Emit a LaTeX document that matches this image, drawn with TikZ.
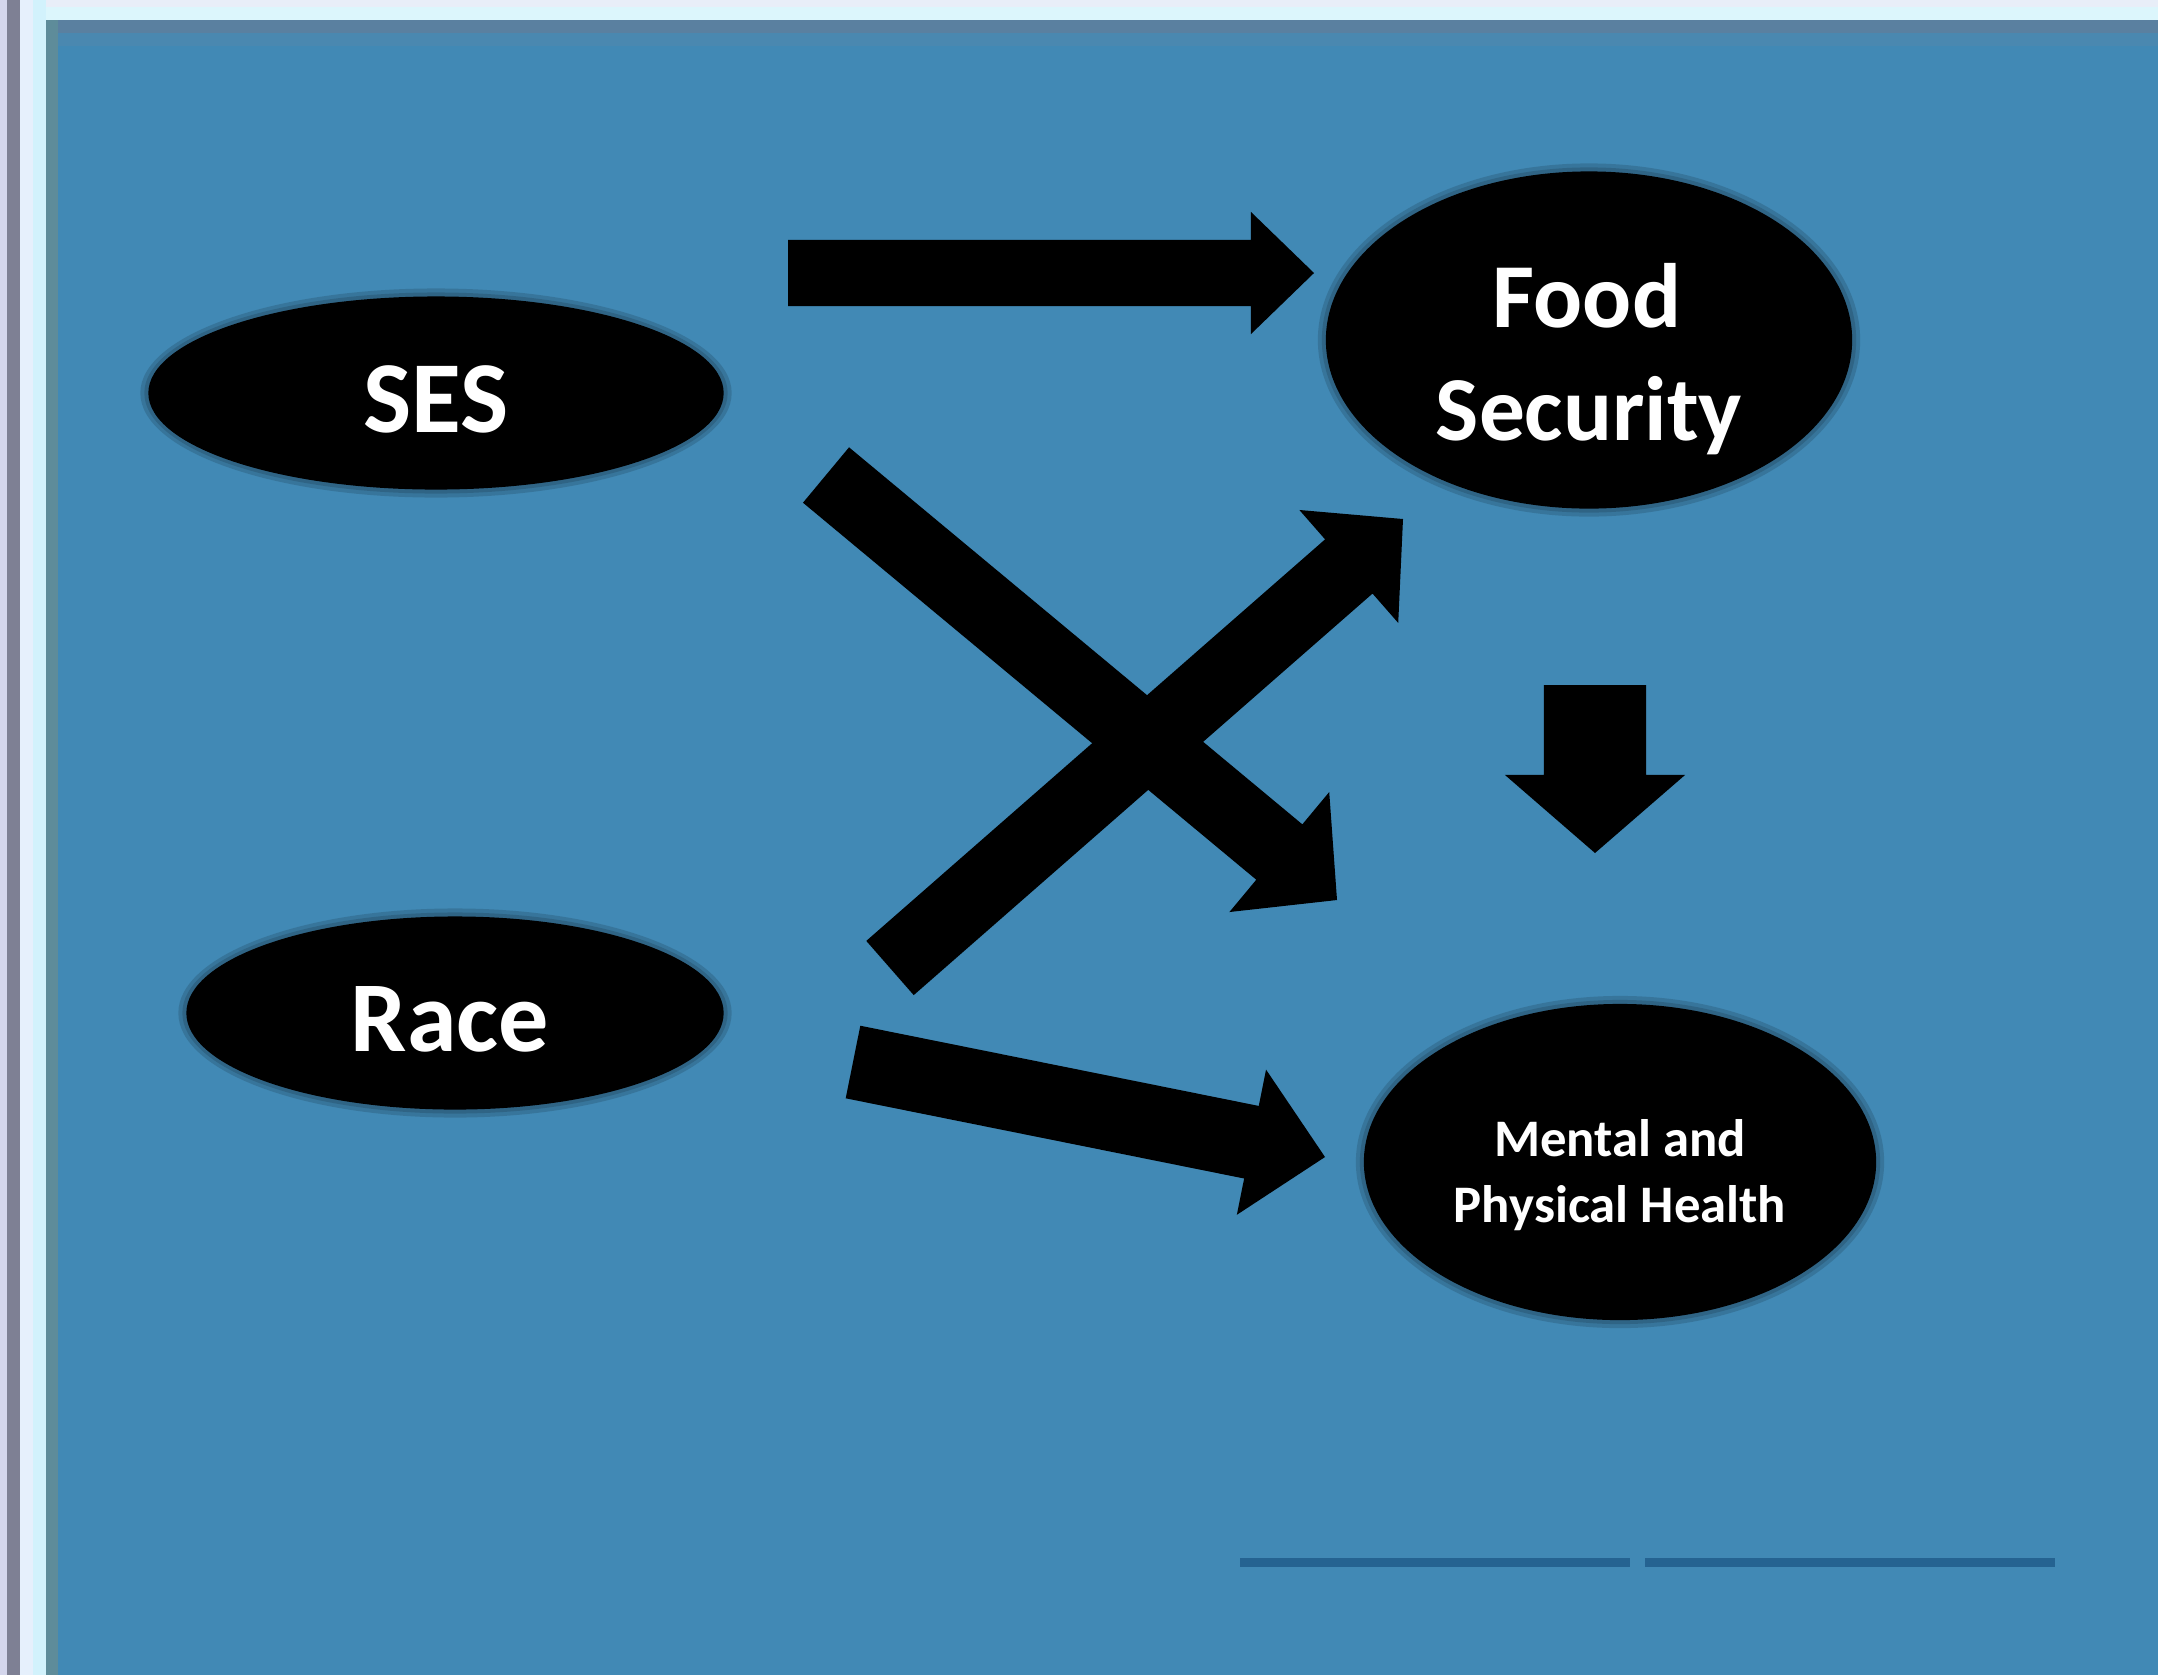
\documentclass[tikz,border=0pt]{standalone}
\usepackage{fontspec}
\setmainfont{Carlito}
\usetikzlibrary{shapes.geometric,calc}
\definecolor{bgblue}{RGB}{65,137,181}
\definecolor{edgeA}{RGB}{212,214,236}
\definecolor{edgeB}{RGB}{126,128,148}
\definecolor{edgeC}{RGB}{230,240,252}
\definecolor{edgeD}{RGB}{210,242,252}
\definecolor{edgeE}{RGB}{94,140,154}
\definecolor{topA}{RGB}{232,238,248}
\definecolor{topB}{RGB}{220,246,252}
\definecolor{topC}{RGB}{90,128,160}
\definecolor{topD}{RGB}{74,136,176}
\definecolor{citeblue}{RGB}{30,90,136}
\newcommand{\blockarr}[5]{%
  \coordinate (ba-c) at ($(#2)!#5!(#1)$);
  \fill[arrowfill] ($(#1)!#3!90:(#2)$) -- ($(ba-c)!#3!90:(#2)$) -- ($(ba-c)!#4!90:(#2)$)
    -- (#2) -- ($(ba-c)!#4!-90:(#2)$) -- ($(ba-c)!#3!-90:(#2)$) -- ($(#1)!#3!-90:(#2)$) -- cycle;}
\begin{document}
\begin{tikzpicture}[x=0.01cm,y=-0.01cm,
  blob/.style={ellipse, fill=black, inner sep=0pt, draw=none},
  halo/.style={ellipse, fill=black, opacity=0.14, inner sep=0pt, draw=none},
  lbl/.style={text=white, anchor=base, inner sep=0pt, font=\bfseries},
  arrowfill/.style={fill=black}]
\useasboundingbox (0,0) rectangle (2158,1675);
% background and window edges
\fill[bgblue] (0,0) rectangle (2158,1675);
\fill[topA] (0,0) rectangle (2158,7);
\fill[topB] (0,7) rectangle (2158,20);
\fill[topC] (46,20) rectangle (2158,33);
\fill[topD] (46,33) rectangle (2158,46);
\fill[edgeA] (0,0) rectangle (7,1675);
\fill[edgeB] (7,0) rectangle (20,1675);
\fill[edgeC] (20,0) rectangle (33,1675);
\fill[edgeD] (33,0) rectangle (46,1675);
\fill[edgeE] (46,20) rectangle (58,1675);
% ellipses (soft edge: two faint halos under each)
\node[halo, minimum width=5.91cm, minimum height=2.09cm] (sesh2) at (436,393) {};
\node[halo, minimum width=5.83cm, minimum height=2.01cm] (sesh) at (436,393) {};
\node[blob, minimum width=5.75cm, minimum height=1.93cm] (ses) at (436,393) {};
\node[halo, minimum width=5.53cm, minimum height=2.09cm] (raceh2) at (455,1013) {};
\node[halo, minimum width=5.45cm, minimum height=2.01cm] (raceh) at (455,1013) {};
\node[blob, minimum width=5.37cm, minimum height=1.93cm] (race) at (455,1013) {};
\node[halo, minimum width=5.42cm, minimum height=3.53cm] (foodh2) at (1589,340) {};
\node[halo, minimum width=5.34cm, minimum height=3.45cm] (foodh) at (1589,340) {};
\node[blob, minimum width=5.26cm, minimum height=3.37cm] (food) at (1589,340) {};
\node[halo, minimum width=5.28cm, minimum height=3.32cm] (healthh2) at (1620,1162) {};
\node[halo, minimum width=5.20cm, minimum height=3.24cm] (healthh) at (1620,1162) {};
\node[blob, minimum width=5.12cm, minimum height=3.16cm] (health) at (1620,1162) {};
% labels
\node[lbl, font=\bfseries\fontsize{29}{35}\selectfont] (sest) at (436,432) {SES};
\node[lbl, font=\bfseries\fontsize{28.5}{35}\selectfont] (racet) at (450,1051) {Race};
\node[lbl, font=\bfseries\fontsize{26}{32}\selectfont] (foodt1) at (1587,327) {Food};
\node[lbl, font=\bfseries\fontsize{26}{32}\selectfont] (foodt2) at (1589,440) {Security};
\node[lbl, font=\bfseries\fontsize{15}{19.5}\selectfont] (healtht1) at (1620,1156) {Mental and};
\node[lbl, font=\bfseries\fontsize{15}{19.5}\selectfont] (healtht2) at (1620,1222) {Physical Health};
% block arrows
\coordinate (a1s) at (788,273);  \coordinate (a1e) at (1314,273);
\coordinate (a2s) at (826,475);  \coordinate (a2e) at (1337,900);
\coordinate (a3s) at (890,968);  \coordinate (a3e) at (1403,519);
\coordinate (a4s) at (1595,685); \coordinate (a4e) at (1595,853);
\coordinate (a5s) at (853,1062); \coordinate (a5e) at (1325,1157);
\blockarr{a1s}{a1e}{0.33cm}{0.61cm}{0.63cm}
\blockarr{a2s}{a2e}{0.36cm}{0.78cm}{0.75cm}
\blockarr{a3s}{a3e}{0.36cm}{0.75cm}{0.72cm}
\blockarr{a4s}{a4e}{0.51cm}{0.90cm}{0.78cm}
\blockarr{a5s}{a5e}{0.37cm}{0.74cm}{0.75cm}
% illegible citation line
\coordinate (c1) at (1240,1562); \coordinate (c2) at (1630,1562);
\coordinate (c3) at (1645,1562); \coordinate (c4) at (2055,1562);
\draw[citeblue, line width=0.09cm, opacity=0.8] (c1) -- (c2);
\draw[citeblue, line width=0.09cm, opacity=0.8] (c3) -- (c4);
\end{tikzpicture}
\end{document}
